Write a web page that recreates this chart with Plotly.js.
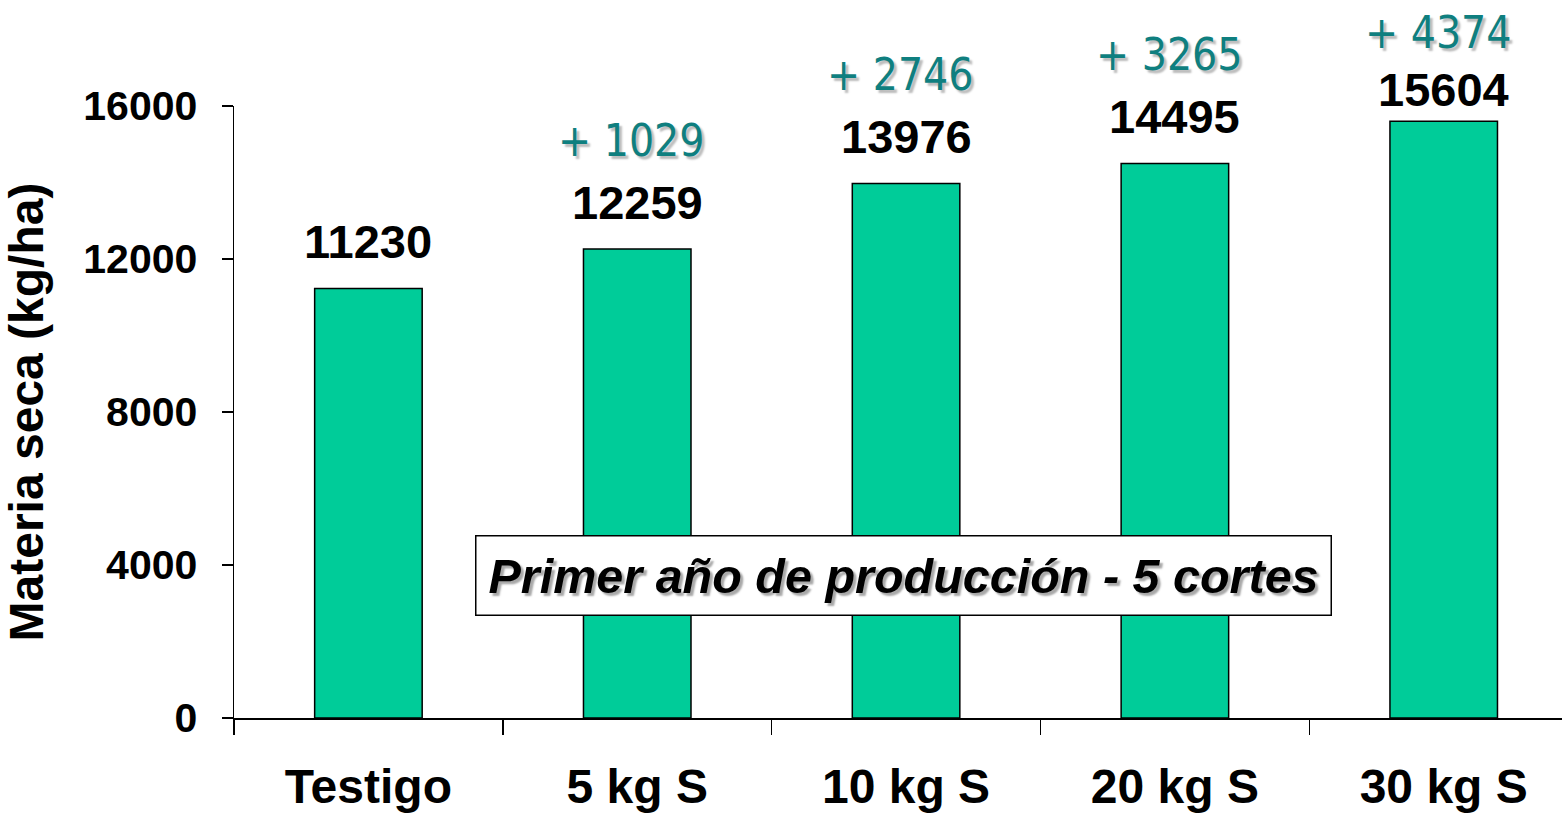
<!DOCTYPE html>
<html>
<head>
<meta charset="utf-8">
<script src="https://cdn.plot.ly/plotly-3.0.1.min.js"></script>
<style>html,body{margin:0;padding:0;background:#fff;}#chart{width:1562px;height:816px;}</style>
</head>
<body>
<div id="chart"></div>
<script>
const categories = ["Testigo", "5 kg S", "10 kg S", "20 kg S", "30 kg S"];
const values = [11230, 12259, 13976, 14495, 15604];
const increments = ["", "+ 1029", "+ 2746", "+ 3265", "+ 4374"];
const yTicks = [0, 4000, 8000, 12000, 16000];
const yTitle = "Materia seca (kg/ha)";
const boxText = "Primer año de producción - 5 cortes";

const H = 816, mt = 106, mb = 98;
const plotH = H - mt - mb;
const yMax = 16000;

const annotations = [];
values.forEach((v, i) => {
  const barTop = mt + (1 - v / yMax) * plotH;
  let blackShift = 47;
  let tealShift = blackShift + 62;
  const tealCenter = barTop - tealShift;
  if (tealCenter < 32) {
    const d = 32 - tealCenter;
    tealShift -= d;
    blackShift = Math.min(blackShift, tealShift - 57);
  }
  annotations.push({
    x: categories[i], y: v, xref: "x", yref: "y",
    text: String(v), showarrow: false, yanchor: "middle", yshift: blackShift,
    font: {family: "Liberation Sans, Arial, sans-serif", size: 47, color: "#000", weight: "bold"}
  });
  if (increments[i]) {
    annotations.push({
      x: categories[i], y: v, xref: "x", yref: "y",
      text: increments[i], showarrow: false, yanchor: "middle", yshift: tealShift, xshift: -6,
      font: {family: "DejaVu Sans Condensed, DejaVu Sans, sans-serif", size: 44, color: "#0f7f7f",
             shadow: "3px 3px 2px #bcbcbc"}
    });
  }
});

annotations.push({
  x: categories[2], y: 3720, xref: "x", yref: "y",
  text: boxText, showarrow: false, xanchor: "center", yanchor: "middle",
  bgcolor: "#ffffff", bordercolor: "#000", borderwidth: 1.5, borderpad: 12, xshift: -3,
  font: {family: "Liberation Sans, Arial, sans-serif", size: 48.5, color: "#000", weight: "bold", style: "italic",
         shadow: "3px 3px 2px #a8a8a8"}
});

const trace = {
  type: "bar",
  x: categories,
  y: values,
  width: 0.4,
  marker: {color: "#00CC99", line: {color: "#000", width: 1.5}},
  hoverinfo: "none"
};

const layout = {
  width: 1562, height: 816,
  margin: {l: 234, r: 0, t: mt, b: mb, pad: 0},
  paper_bgcolor: "#fff", plot_bgcolor: "#fff",
  showlegend: false,
  xaxis: {
    type: "category",
    range: [-0.5, 4.44],
    tickson: "boundaries",
    ticks: "outside", ticklen: 15, tickwidth: 1.5, tickcolor: "#000",
    showline: true, linecolor: "#000", linewidth: 1.5,
    showgrid: false, zeroline: false,
    ticklabelstandoff: 26,
    tickfont: {family: "Liberation Sans, Arial, sans-serif", size: 48, color: "#000", weight: "bold"}
  },
  yaxis: {
    range: [0, yMax],
    tickvals: yTicks,
    ticktext: yTicks.map(String),
    ticks: "outside", ticklen: 11, tickwidth: 1.5, tickcolor: "#000",
    showline: true, linecolor: "#000", linewidth: 1.5,
    showgrid: false, zeroline: false,
    ticklabelstandoff: 16,
    tickfont: {family: "Liberation Sans, Arial, sans-serif", size: 41, color: "#000", weight: "bold"},
    title: {text: yTitle, standoff: 26,
            font: {family: "Liberation Sans, Arial, sans-serif", size: 48, color: "#000", weight: "bold"}}
  },
  annotations: annotations
};

Plotly.newPlot("chart", [trace], layout, {staticPlot: true, displayModeBar: false});
</script>
</body>
</html>
